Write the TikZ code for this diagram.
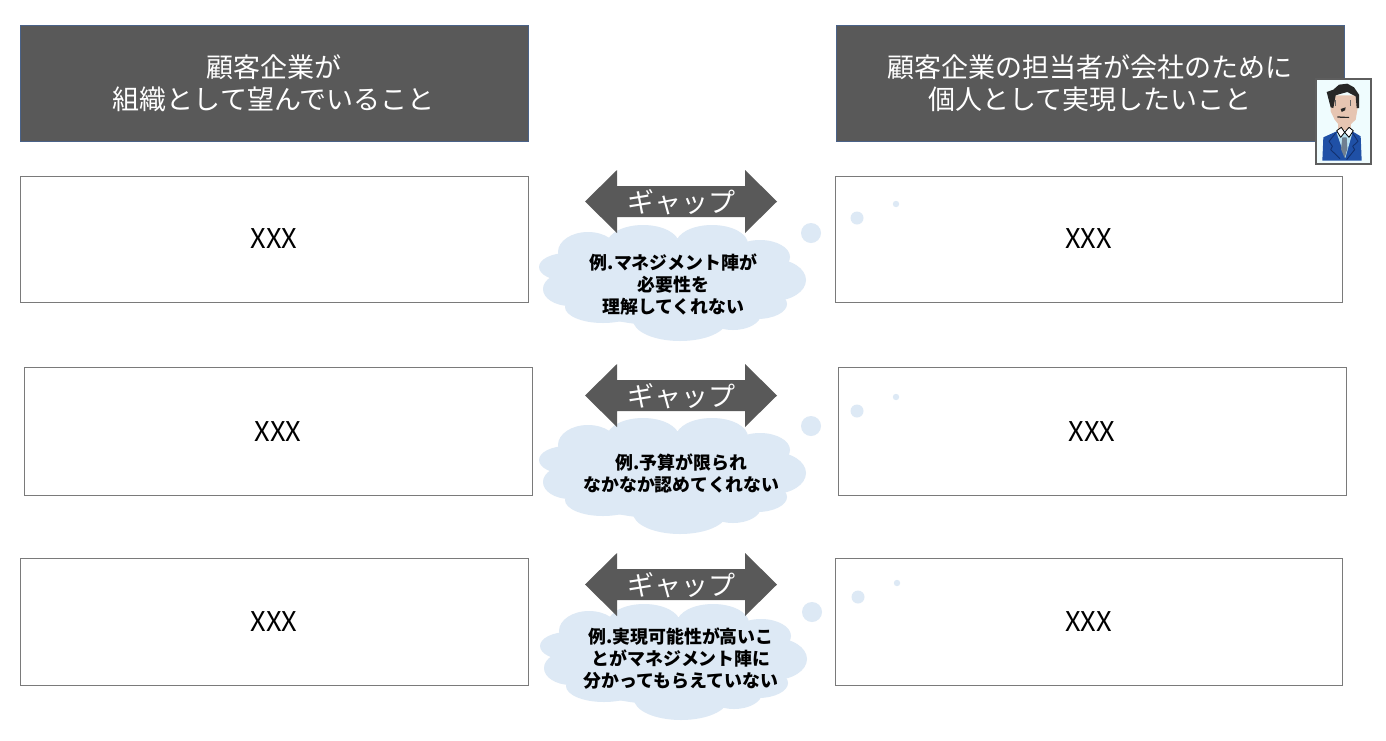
\documentclass[tikz,border=0pt]{standalone}
\usepackage{fontspec}
\setmainfont{Noto Sans CJK JP}
\definecolor{hdr}{HTML}{595959}
\definecolor{hdredge}{HTML}{4A6288}
\definecolor{cloudc}{HTML}{DDE9F5}
\definecolor{boxedge}{HTML}{7A7A7A}
\definecolor{skin}{HTML}{E6C5B2}
\definecolor{suit}{HTML}{1F50A6}
\definecolor{suitdark}{HTML}{12306E}
\definecolor{shirt}{HTML}{B9E2F2}
\definecolor{tiec}{HTML}{6F7F90}
\definecolor{cardbg}{HTML}{EFFCFE}
\definecolor{cardedge}{HTML}{5E5E5E}
\tikzset{
 hdrbox/.style={draw=hdredge,line width=0.8pt,fill=hdr,text=white,minimum width=508pt,minimum height=116pt,align=center,font=\fontsize{27}{32}\selectfont,inner sep=0pt,anchor=north west},
 itembox/.style={draw=boxedge,line width=1.2pt,fill=white,minimum width=508pt,anchor=north west,font=\fontsize{27.2}{30}\selectfont,inner sep=0pt},
 cloudtext/.style={align=center,font=\fontsize{17.9}{22}\selectfont\bfseries,text=black,inner sep=0pt},
 gaptext/.style={text=white,font=\fontsize{27}{30}\selectfont,inner sep=0pt},
 gaparrow/.style={fill=hdr,draw=none},
 cloudpart/.style={fill=cloudc,draw=none},
}
\newcommand{\gapcloud}[2]{%
 \begin{scope}[shift={(#1,#2)}]
  \fill[cloudpart] (0,0) ellipse (118pt and 44pt);
  \fill[cloudpart] (-84,-30) ellipse (30pt and 20pt);
  \fill[cloudpart] (-29,-38) ellipse (36pt and 19pt);
  \fill[cloudpart] (40,-38) ellipse (36pt and 19pt);
  \fill[cloudpart] (88,-25) ellipse (30pt and 17pt);
  \fill[cloudpart] (-105,-15) ellipse (28pt and 14pt);
  \fill[cloudpart] (-102,7) ellipse (27pt and 17pt);
  \fill[cloudpart] (101,-2) ellipse (33pt and 21pt);
  \fill[cloudpart] (85,22) ellipse (30pt and 15pt);
  \fill[cloudpart] (-69,25) ellipse (38pt and 16pt);
  \fill[cloudpart] (8,38) ellipse (47pt and 21pt);
  \fill[cloudpart] (61,32) ellipse (28pt and 16pt);
 \end{scope}}
\newcommand{\gaparrowat}[2]{%
 \fill[gaparrow] (585,#2) -- (617,#2-31.5) -- (617,#2-15.5) -- (745,#2-15.5) -- (745,#2-31.5) -- (777,#2) -- (745,#2+31.5) -- (745,#2+15.5) -- (617,#2+15.5) -- (617,#2+31.5) -- cycle;
 \node[gaptext] (#1) at (681.5,#2+0.5) {ギャップ};}
\newcommand{\bubbles}[6]{%
 \fill[cloudpart] (#1,#2) circle (10pt);
 \fill[cloudpart] (#3,#4) circle (6.5pt);
 \fill[cloudpart] (#5,#6) circle (3.2pt);}
\begin{document}
\begin{tikzpicture}[x=1pt,y=-1pt]
\useasboundingbox (0,0) rectangle (1386,740);
\fill[white] (0,0) rectangle (1386,740);
\node[hdrbox] (h1) at (19.5,24.5) {顧客企業が\\組織として望んでいること};
\node[hdrbox] (h2) at (835.5,24.5) {顧客企業の担当者が会社のために\\個人として実現したいこと};

\node[itembox,minimum height=126pt] (l1) at (19.5,175.5) {\raisebox{1.5pt}{XXX}};
\node[itembox,minimum height=126pt,minimum width=507pt] (r1) at (834.5,175.5) {\raisebox{1.5pt}{XXX}};
\node[itembox,minimum height=128pt] (l2) at (23.5,366.5) {XXX};
\node[itembox,minimum height=128pt] (r2) at (837.5,366.5) {XXX};
\node[itembox,minimum height=127pt] (l3) at (19.5,557.5) {XXX};
\node[itembox,minimum height=127pt,minimum width=507pt] (r3) at (834.5,557.5) {XXX};

\gapcloud{672}{282}
\gapcloud{672}{475}
\gapcloud{673}{661}
\bubbles{811}{233}{857}{218}{896}{204}
\bubbles{811}{426}{857}{411}{896}{397}
\bubbles{812}{612}{858}{597}{897}{583}

\gaparrowat{g1}{201.5}
\gaparrowat{g2}{395.5}
\gaparrowat{g3}{584.5}

\node[cloudtext] (c1) at (673.5,284.5) {例.マネジメント陣が\\必要性を\\理解してくれない};
\node[cloudtext] (c2) at (681.5,473) {例.予算が限られ\\なかなか認めてくれない};
\node[cloudtext] (c3) at (681,659) {例.実現可能性が高いこ\\とがマネジメント陣に\\分かってもらえていない};

% portrait card
\begin{scope}[shift={(1314,78)},x=0.3333pt,y=-0.3333pt]
 \fill[fill=cardbg,draw=cardedge,line width=2.4pt] (6,3) rectangle (171,258);
 % suit
 \fill[suit] (25,248) -- (28,178) -- (68,160) -- (115,160) -- (140,175) -- (143,248) -- cycle;
 \fill[shirt] (68,165) -- (115,165) -- (94,240) -- cycle;
 \fill[tiec] (85,178) -- (98,178) -- (100,212) -- (92,240) -- (81,214) -- cycle;
 \draw[suitdark,line width=0.9pt,line join=round] (65,165) -- (45,190) -- (55,205) -- (50,215) -- (78,242);
 \draw[suitdark,line width=0.9pt,line join=round] (116,165) -- (132,190) -- (116,205) -- (122,215) -- (98,245);
 % neck and face
 \fill[skin] (72,130) rectangle (110,155);
 \fill[skin] (50,85) -- (60,52) -- (125,52) -- (131,90) -- (125,125) -- (108,141) -- (75,141) -- (62,125) -- (50,100) -- cycle;
 % collar
 \draw[black,line width=0.8pt,fill=white,line join=round] (68,158) -- (82,148) -- (92,163) -- (80,178) -- cycle;
 \draw[black,line width=0.8pt,fill=white,line join=round] (92,163) -- (105,148) -- (118,158) -- (105,178) -- cycle;
 % hair
 \fill[black!85] (38,42) -- (58,35) -- (75,20) -- (100,17) -- (120,28) -- (135,50) -- (135,90) -- (128,90) -- (125,55) -- (100,42) -- (78,48) -- (65,52) -- (58,90) -- (50,88) -- (44,65) -- cycle;
 % features
 \fill[black!60] (62,65) rectangle (65,84);
 \fill[black!60] (108,65) rectangle (111,84);
 \fill[black!85] (80,93) -- (95,88) -- (93,97) -- (83,102) -- cycle;
 \fill[black!85] (70,115) -- (105,117) -- (105,120) -- (70,119) -- cycle;
\end{scope}
\end{tikzpicture}
\end{document}
